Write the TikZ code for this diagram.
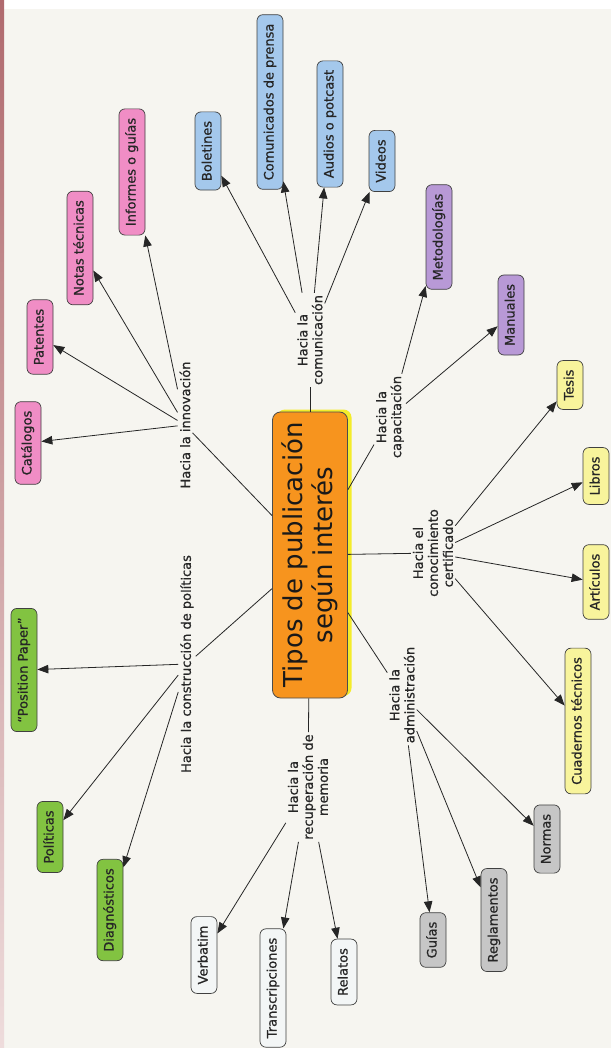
\documentclass[tikz,border=0pt]{standalone}
\usepackage{fontspec}
\setmainfont{DejaVu Sans}[AutoFakeBold=0.7]
\usetikzlibrary{arrows.meta}
\definecolor{bgc}{HTML}{F6F5F0}
\definecolor{cblue}{HTML}{A4C8EC}
\definecolor{cpink}{HTML}{F08DC5}
\definecolor{cpurple}{HTML}{B899D6}
\definecolor{cyellow}{HTML}{F8F49C}
\definecolor{cgreen}{HTML}{82C341}
\definecolor{cgray}{HTML}{C6C6C6}
\definecolor{cwhite}{HTML}{F3F6F6}
\definecolor{corange}{HTML}{F7941E}
\definecolor{cglow}{HTML}{F4EC2A}
\definecolor{stripetop}{HTML}{B06A6E}
\definecolor{stripebot}{HTML}{EEDCDC}
\tikzset{
  concept/.style={rotate=90, rounded corners=6pt, draw=black!75, line width=0.7pt,
    font=\fontsize{13}{15}\selectfont\bfseries, text height=9.5pt, text depth=2.5pt,
    inner xsep=9pt, inner ysep=7pt, text=black!85},
  linkph/.style={rotate=90, align=center, font=\fontsize{13}{15}\selectfont\bfseries,
    inner sep=2pt, text=black!85},
  arr/.style={-{Triangle[length=11pt,width=8.5pt]}, line width=0.8pt, draw=black!85},
  con/.style={line width=0.8pt, draw=black!85},
}
\begin{document}
\begin{tikzpicture}[x=1pt,y=-1pt]
\useasboundingbox (0,0) rectangle (611,1048);
\fill[bgc] (0,0) rectangle (611,1048);
\fill[white] (0,0) rectangle (611,9);
\shade[top color=stripetop, bottom color=stripebot] (0,0) rectangle (4,1048);

% central concept
\fill[cglow, rounded corners=8pt] (277,409.5) rectangle (351.5,696);
\node[rotate=90, fill=corange, draw=black!70, line width=0.8pt, rounded corners=8pt,
  minimum width=286pt, minimum height=75pt, inner sep=0pt, align=center,
  font=\fontsize{26}{30}\selectfont, text=black!90] (cen) at (310,555)
  {Tipos de publicación\\según interés};

% linking phrases
\node[linkph] (lcom) at (310,340) {Hacia la\\comunicación};
\node[linkph] (linn) at (185,425) {Hacia la innovación};
\node[linkph] (lpol) at (187,664) {Hacia la construcción de políticas};
\node[linkph] (lmem) at (308,787) {Hacia la\\recuperación de\\memoria};
\node[linkph] (ladm) at (402,695) {Hacia la\\administración};
\node[linkph] (lcap) at (390,417) {Hacia la\\capacitación};
\node[linkph] (lcer) at (433,553) {Hacia el\\conocimiento\\certificado};

% concepts
\node[concept, fill=cblue] (bol) at (208,151) {Boletines};
\node[concept, fill=cblue] (com) at (270,102) {Comunicados de prensa};
\node[concept, fill=cblue] (aud) at (330,124) {Audios o potcast};
\node[concept, fill=cblue] (vid) at (382,161) {Videos};

\node[concept, fill=cpink] (inf) at (132,172) {Informes o guías};
\node[concept, fill=cpink] (nta) at (80,248) {Notas técnicas};
\node[concept, fill=cpink] (pat) at (40,337) {Patentes};
\node[concept, fill=cpink] (cat) at (28,443) {Catálogos};

\node[concept, fill=cpurple] (met) at (439,237) {Metodologías};
\node[concept, fill=cpurple] (man) at (511,315) {Manuales};

\node[concept, fill=cyellow] (tes) at (570,385) {Tesis};
\node[concept, fill=cyellow] (lib) at (596,476) {Libros};
\node[concept, fill=cyellow] (art) at (596,582) {Artículos};
\node[concept, fill=cyellow] (cua) at (578,721) {Cuadernos técnicos};

\node[concept, fill=cgreen] (pos) at (24,670) {“Position Paper”};
\node[concept, fill=cgreen] (pol) at (50,837) {Políticas};
\node[concept, fill=cgreen] (dia) at (110,910) {Diagnósticos};

\node[concept, fill=cwhite] (ver) at (204,955) {Verbatim};
\node[concept, fill=cwhite] (tra) at (273,988) {Transcripciones};
\node[concept, fill=cwhite] (rel) at (344,972) {Relatos};

\node[concept, fill=cgray] (gui) at (433,940) {Guías};
\node[concept, fill=cgray] (reg) at (494,920) {Reglamentos};
\node[concept, fill=cgray] (nor) at (547,839) {Normas};

% connectors centre -> phrases
\foreach \p in {lcom,linn,lpol,lmem,ladm,lcap,lcer}
  \draw[con] (cen) -- (\p);

% phrases -> concepts
\foreach \c in {bol,com,aud,vid} \draw[arr] (lcom) -- (\c);
\foreach \c in {inf,nta,pat,cat} \draw[arr] (linn) -- (\c);
\foreach \c in {pos,pol,dia} \draw[arr] (lpol) -- (\c);
\foreach \c in {ver,tra,rel} \draw[arr] (lmem) -- (\c);
\foreach \c in {gui,reg,nor} \draw[arr] (ladm) -- (\c);
\foreach \c in {tes,lib,art,cua} \draw[arr] (lcer) -- (\c);
\foreach \c in {met,man} \draw[arr] (lcap) -- (\c);
\end{tikzpicture}
\end{document}
